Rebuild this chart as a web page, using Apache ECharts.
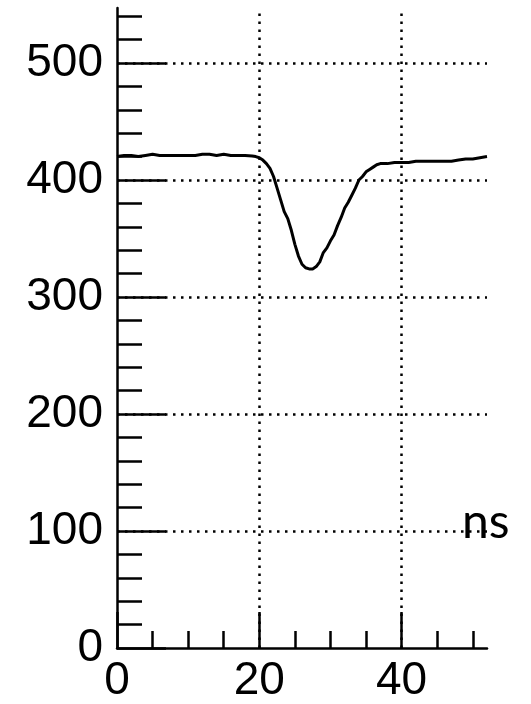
<!DOCTYPE html>
<html>
<head>
<meta charset="utf-8">
<script src="https://cdn.jsdelivr.net/npm/echarts@6/dist/echarts.min.js"></script>
<style>
  html, body { margin: 0; padding: 0; background: #fff; }
  #main { width: 531px; height: 704px; }
</style>
</head>
<body>
<div id="main"></div>
<script>
// time (ns) and amplitude
const aTime = [0, 1, 2, 3, 4, 5, 6, 7, 8, 9, 10, 11, 12, 13, 14, 15, 16, 17, 18,
    19, 19.5, 20, 20.5, 21, 21.5, 22, 22.5, 23, 23.5, 24, 24.5, 25, 25.5, 26, 26.5,
    27, 27.5, 28, 28.5, 29, 29.5, 30, 30.5, 31, 31.5, 32, 32.5, 33, 33.5, 34, 34.5,
    35, 35.5, 36, 36.5, 37, 38, 39, 40, 41, 42, 43, 44, 45, 46, 47, 48, 49, 50, 51, 52];
const aAmp = [420, 421, 421, 420, 421, 422, 421, 421, 421, 421, 421, 421, 422, 422, 421, 422, 421, 421, 421,
    420.5, 420, 419, 417, 414, 410, 403, 393, 383, 373, 367, 357, 345, 335, 328, 325,
    324, 324, 326, 330, 338, 342, 348, 353, 361, 368, 376, 381, 387, 393, 400, 403,
    407, 409, 411, 413, 414, 414, 415, 415, 415, 416, 416, 416, 416, 416, 416, 417, 418, 418, 419, 420];

const aXMajor = [0, 20, 40];
const aXMinor = [5, 10, 15, 25, 30, 35, 45, 50];
const aYMajor = [0, 100, 200, 300, 400, 500];
const aYMinor = [20, 40, 60, 80, 120, 140, 160, 180, 220, 240, 260, 280,
    320, 340, 360, 380, 420, 440, 460, 480, 520, 540];
const aXGrid = [20, 40];
const aYGrid = [100, 200, 300, 400, 500];
const sUnit = 'ns';

const oLabelFont = { fontSize: 46, fontFamily: 'Liberation Sans', color: '#000' };
const oBlack = { color: '#000', width: 2.5 };

function makeX(ticks, len, main){
    return {
        type: 'value', min: 0, max: 52, position: 'bottom',
        axisLine: { show: main, onZero: false, lineStyle: oBlack },
        axisTick: { show: true, inside: true, length: len, customValues: ticks, lineStyle: oBlack },
        axisLabel: main ? { ...oLabelFont, margin: 10, customValues: aXMajor } : { show: false },
        splitLine: { show: false },
    };
}
function makeY(ticks, len, main){
    return {
        type: 'value', min: 0, max: 547, position: 'left',
        axisLine: { show: main, onZero: false, lineStyle: oBlack },
        axisTick: { show: true, inside: true, length: len, customValues: ticks, lineStyle: oBlack },
        axisLabel: main ? { ...oLabelFont, margin: 14, customValues: aYMajor } : { show: false },
        splitLine: { show: false },
    };
}

const myChart = echarts.init(document.getElementById('main'));
myChart.setOption({
    animation: false,
    grid: { left: 117, right: 44, top: 8, bottom: 52 },
    xAxis: [makeX(aXMajor, 36, true), makeX(aXMinor, 17, false)],
    yAxis: [makeY(aYMajor, 49, true), makeY(aYMinor, 25, false)],
    graphic: [{
        type: 'text', left: 462, top: 499, z: 100,
        style: { text: sUnit, font: '48px Lato', fill: '#000' },
    }],
    series: [{
        type: 'line',
        data: aTime.map((t, i) => [t, aAmp[i]]),
        showSymbol: false,
        lineStyle: { color: '#000', width: 3 },
        z: 5,
        markLine: {
            silent: true, symbol: 'none', label: { show: false },
            lineStyle: { color: '#000', width: 2.5, type: [2.5, 5.5] },
            data: [...aYGrid.map(v => ({ yAxis: v })), ...aXGrid.map(v => ({ xAxis: v }))],
        },
    }],
});
</script>
</body>
</html>
